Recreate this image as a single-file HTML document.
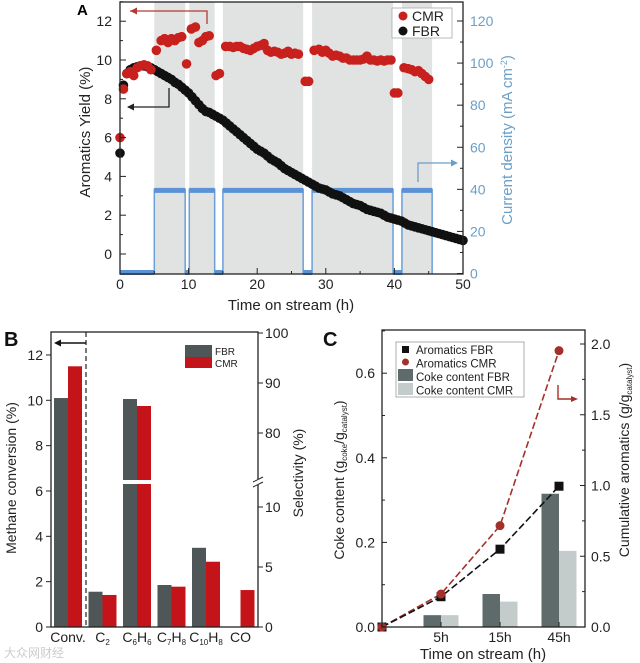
<!DOCTYPE html>
<html><head><meta charset="utf-8">
<style>
html,body{margin:0;padding:0;background:#fff;}
svg{display:block;font-family:"Liberation Sans",Arial,sans-serif;}
</style></head>
<body>
<svg id="fig" width="640" height="663" viewBox="0 0 640 663" xmlns="http://www.w3.org/2000/svg">
  <g id="gA"></g>
  <g id="gB"></g>
  <g id="gC"></g>
  <text x="77" y="15" font-size="15" font-weight="bold">A</text>
</svg>
<script>
// ===== Panel A data =====
const aOnPeriods = [[5.0,9.5],[10.1,13.8],[15.0,26.7],[28.0,39.8],[41.1,45.5]];
const aCurrentOn = 40;
const aFbrTime = [0,0.5,1,1.5,2,2.5,3,3.5,4,4.5,5,5.5,6,6.5,7,7.5,8,8.5,9,9.5,10,10.5,11,11.5,12,12.5,13,13.5,14,14.5,15,15.5,16,16.5,17,17.5,18,18.5,19,19.5,20,20.5,21,21.5,22,22.5,23,23.5,24,24.5,25,25.5,26,26.5,27,27.5,28,28.5,29,29.5,30,30.5,31,31.5,32,32.5,33,33.5,34,34.5,35,35.5,36,36.5,37,37.5,38,38.5,39,39.5,40,40.5,41,41.5,42,42.5,43,43.5,44,44.5,45,45.5,46,46.5,47,47.5,48,48.5,49,49.5,50];
const aFbrYield = [5.2,8.7,9.3,9.5,9.6,9.65,9.7,9.7,9.65,9.6,9.5,9.4,9.3,9.2,9.1,9.0,8.85,8.75,8.6,8.45,8.3,8.1,7.9,7.7,7.5,7.35,7.3,7.2,7.1,7.0,6.9,6.75,6.6,6.45,6.3,6.15,6.0,5.85,5.7,5.55,5.4,5.3,5.2,5.05,4.9,4.8,4.7,4.55,4.4,4.3,4.2,4.1,4.0,3.9,3.8,3.7,3.6,3.5,3.4,3.35,3.3,3.2,3.1,3.05,3.0,2.9,2.8,2.7,2.6,2.55,2.5,2.4,2.3,2.25,2.2,2.15,2.1,2.0,1.9,1.85,1.8,1.75,1.7,1.6,1.5,1.45,1.4,1.35,1.3,1.25,1.2,1.15,1.1,1.05,1.0,0.95,0.9,0.85,0.8,0.75,0.7];
const aCmrTime = [0,0.5,1,1.5,2,2.5,3,3.5,4,4.5,5.3,6,6.5,7,7.5,8,8.5,9,9.7,10.4,11,11.5,12,12.5,13,14,14.5,15.4,16,16.5,17,17.5,18,18.5,19,19.5,20,20.5,21,21.5,22,22.5,23,23.5,24,24.5,25,25.5,26,27,27.5,28.3,29,29.5,30,30.5,31,31.5,32,32.5,33,33.5,34,34.5,35,35.5,36,36.5,37,37.5,38,38.5,39,39.5,40,40.5,41.4,42,42.5,43,43.5,44,44.5,45];
const aCmrYield = [6.0,8.5,9.3,9.4,9.2,9.6,9.7,9.75,9.7,9.5,10.5,11.0,11.1,10.9,11.1,11.0,11.15,11.2,9.8,11.6,11.7,10.9,11.0,11.2,11.25,9.2,9.3,10.7,10.7,10.65,10.7,10.7,10.6,10.55,10.5,10.6,10.7,10.75,10.85,10.5,10.4,10.45,10.4,10.3,10.35,10.45,10.3,10.35,10.3,8.9,8.9,10.5,10.55,10.4,10.5,10.35,10.2,10.25,10.2,10.1,10.1,10.0,10.0,10.0,10.0,10.05,10.2,10.0,10.0,9.95,10.0,9.95,10.0,10.0,8.3,8.3,9.6,9.55,9.5,9.4,9.45,9.3,9.15,9.0];
const aYTicks = [0,2,4,6,8,10,12];
const aY2Ticks = [0,20,40,60,80,100,120];
const aXTicks = [0,10,20,30,40,50];

// ===== Panel B data =====
const bCats = ["Conv.","C2","C6H6","C7H8","C10H8","CO"];
const bFbr = [10.1, 2.94, 86.8, 3.5, 6.6, 0];
const bCmr = [11.5, 2.67, 85.4, 3.36, 5.44, 3.08];
const bYTicks = [0,2,4,6,8,10,12];
const bSelLowTicks = [0,5,10];
const bSelHighTicks = [80,90,100];

// ===== Panel C data =====
const cCats = ["","5h","15h","45h"];
const cCokeFbr = [null,0.028,0.078,0.315];
const cCokeCmr = [null,0.028,0.06,0.18];
const cAromFbr = [0,0.214,0.55,0.995];
const cAromCmr = [0,0.233,0.716,1.953];
const cYTicks = [0.0,0.2,0.4,0.6];
const cY2Ticks = [0.0,0.5,1.0,1.5,2.0];

const NS = "http://www.w3.org/2000/svg";
function mk(parent, tag, attrs, txt){
  const e = document.createElementNS(NS, tag);
  for (const k in attrs) e.setAttribute(k, attrs[k]);
  if (txt !== undefined) e.textContent = txt;
  parent.appendChild(e);
  return e;
}

// ================= PANEL A =================
(function(){
  const g = document.getElementById('gA');
  const L=120,R=463,T=2,B=274;
  const xA = t => L + t*(R-L)/50;
  const yA = v => 254 - v*19.4;
  const yC = c => 273.5 - c*(273.5-21)/120;
  for (const p of aOnPeriods){
    const r = mk(g,'rect',{x:xA(p[0]),y:T,width:xA(p[1])-xA(p[0]),height:B-T,fill:'#e1e3e3'});
    
    
  }
  let d = `M${xA(0)},${yC(0)}`;
  for (const p of aOnPeriods){
    d += ` L${xA(p[0])},${yC(0)} L${xA(p[0])},${yC(aCurrentOn)} L${xA(p[1])},${yC(aCurrentOn)} L${xA(p[1])},${yC(0)}`;
  }
  const thin = mk(g,'path',{d:d,fill:'none',stroke:'#6a9fd8','stroke-width':1.5});
  
  
  let prev = 0;
  for (const p of aOnPeriods){
    const off = mk(g,'line',{x1:xA(prev),x2:xA(p[0]),y1:yC(0)-1,y2:yC(0)-1,stroke:'#5b92d6','stroke-width':5});
    
    
    const on = mk(g,'line',{x1:xA(p[0]),x2:xA(p[1]),y1:yC(aCurrentOn)+1,y2:yC(aCurrentOn)+1,stroke:'#5b92d6','stroke-width':5});
    
    
    prev = p[1];
  }
  for (let i=0;i<aFbrTime.length;i++){
    const c = mk(g,'circle',{cx:xA(aFbrTime[i]),cy:yA(aFbrYield[i]),r:4.8,fill:'#111'});
    
    
  }
  for (let i=0;i<aCmrTime.length;i++){
    const c = mk(g,'circle',{cx:xA(aCmrTime[i]),cy:yA(aCmrYield[i]),r:4.8,fill:'#c8201c'});
    
    
  }
  const fr = mk(g,'rect',{x:L,y:T,width:R-L,height:B-T,fill:'none',stroke:'#222','stroke-width':1.3});
  
  
  for (const v of aYTicks){
    const tk = mk(g,'line',{x1:L,x2:L+6,y1:yA(v),y2:yA(v),stroke:'#222'});
    
    
    const mt = mk(g,'line',{x1:L,x2:L+3,y1:yA(v+1),y2:yA(v+1),stroke:'#222'});
    
    
    const lb = mk(g,'text',{x:L-8,y:yA(v)+5,'font-size':14,'text-anchor':'end',fill:'#222'},String(v));
    
    
  }
  for (const v of aY2Ticks){
    const tk = mk(g,'line',{x1:R,x2:R-6,y1:yC(v),y2:yC(v),stroke:'#222'});
    
    
    if (v<120){
      const mt = mk(g,'line',{x1:R,x2:R-3,y1:yC(v+10),y2:yC(v+10),stroke:'#222'});
      
      
    }
    const lb = mk(g,'text',{x:R+7,y:yC(v)+5,'font-size':14,fill:'#6a9fc8'},String(v));
    
    
  }
  for (const v of aXTicks){
    const tk = mk(g,'line',{x1:xA(v),x2:xA(v),y1:B,y2:B-6,stroke:'#222'});
    
    
    if (v<50){
      const mt = mk(g,'line',{x1:xA(v+5),x2:xA(v+5),y1:B,y2:B-3,stroke:'#222'});
      
      
    }
    const lb = mk(g,'text',{x:xA(v),y:B+15,'font-size':14,'text-anchor':'middle',fill:'#222'},String(v));
    
    
  }
})();
</script>
<svg style="position:absolute;left:0;top:0" width="640" height="663" xmlns="http://www.w3.org/2000/svg" font-family="Liberation Sans, Arial, sans-serif">
  <text x="291" y="310" font-size="15" text-anchor="middle" fill="#222">Time on stream (h)</text>
  <text transform="translate(90,132) rotate(-90)" font-size="15" text-anchor="middle" fill="#222">Aromatics Yield (%)</text>
  <text transform="translate(512,140) rotate(-90)" font-size="15" text-anchor="middle" fill="#6a9fc8">Current density (mA cm<tspan dy="-5" font-size="9">-2</tspan><tspan dy="5">)</tspan></text>
  <g>
    <rect x="392" y="8" width="60" height="30" fill="#fff" stroke="#aaa" stroke-width="0.8"/>
    <circle cx="403" cy="16" r="4.5" fill="#c8201c"/>
    <text x="412" y="21" font-size="14" fill="#222">CMR</text>
    <circle cx="403" cy="31" r="4.5" fill="#111"/>
    <text x="412" y="36" font-size="14" fill="#222">FBR</text>
  </g>
  <path d="M207,24 V11 H130" fill="none" stroke="#b23a36" stroke-width="1.3"/>
  <path d="M130,11 l7,-3.5 v7 z" fill="#b23a36"/>
  <path d="M169,88 V107 H128" fill="none" stroke="#222" stroke-width="1.3"/>
  <path d="M127,107 l7,-3.5 v7 z" fill="#222"/>
  <path d="M418,182 V163 H452" fill="none" stroke="#6a9fc8" stroke-width="1.3"/>
  <path d="M458,163 l-7,-3.5 v7 z" fill="#6a9fc8"/>

  <text x="4" y="346" font-size="20" font-weight="bold" fill="#111">B</text>
  <text x="323" y="346" font-size="20" font-weight="bold" fill="#111">C</text>
  <text x="4" y="657" font-size="12" fill="#ccc">大众网财经</text>
</svg>
<script>
// ================= PANEL B =================
(function(){
  const g = document.getElementById('gB');
  const L=51,R=258,T=332,B=627;
  const yL = v => 627 - v*22.67;
  const brk = 482;
  const ySel = v => v<=12.1 ? 627 - v*12 : 433 - (v-80)*5;
  const cx = i => 68 + i*34.5;
  const bw = 14;
  for (let i=0;i<bCats.length;i++){
    const f = i===0 ? yL : ySel;
    const vF = bFbr[i], vC = bCmr[i];
    const r1 = mk(g,'rect',{x:cx(i)-bw,y:f(vF),width:bw,height:B-f(vF),fill:'#4f5657'});
    
    
    const r2 = mk(g,'rect',{x:cx(i),y:f(vC),width:bw,height:B-f(vC),fill:'#c4141a'});
    
    
    if (i>0 && (vF>12.1 || vC>12.1)){
      const gap = mk(g,'rect',{x:cx(i)-bw-1,y:brk-2,width:2*bw+2,height:4,fill:'#fff'});
      
      
    }
  }
  const dl = mk(g,'line',{x1:86,x2:86,y1:T,y2:B,stroke:'#222','stroke-width':1.2,'stroke-dasharray':'5,3'});
  
  
  const ar = mk(g,'path',{d:'M86,343 H57',stroke:'#111','stroke-width':1.6,fill:'none'});
  
  
  const ah = mk(g,'path',{d:'M54,343 l7,-3.5 v7 z',fill:'#111'});
  
  
  const fr = mk(g,'rect',{x:L,y:T,width:R-L,height:B-T,fill:'none',stroke:'#222','stroke-width':1.3});
  
  
  const bk = mk(g,'rect',{x:R-4,y:brk-3,width:8,height:6,fill:'#fff'});
  
  
  const bk1 = mk(g,'line',{x1:R-5,x2:R+5,y1:brk,y2:brk-5,stroke:'#222'});
  
  
  const bk2 = mk(g,'line',{x1:R-5,x2:R+5,y1:brk+5,y2:brk,stroke:'#222'});
  
  
  for (const v of bYTicks){
    const tk = mk(g,'line',{x1:L,x2:L-5,y1:yL(v),y2:yL(v),stroke:'#222'});
    
    
    const lb = mk(g,'text',{x:L-8,y:yL(v)+5,'font-size':14,'text-anchor':'end',fill:'#222'},String(v));
    
    
  }
  for (const v of bSelLowTicks.concat(bSelHighTicks)){
    const tk = mk(g,'line',{x1:R,x2:R+5,y1:ySel(v),y2:ySel(v),stroke:'#222'});
    
    
    const lb = mk(g,'text',{x:R+7,y:ySel(v)+5,'font-size':14,fill:'#222'},String(v));
    
    
  }
  const labs = [['Conv.'],['C','2'],['C','6','H','6'],['C','7','H','8'],['C','10','H','8'],['CO']];
  for (let i=0;i<labs.length;i++){
    const t = mk(g,'text',{x:cx(i),y:642,'font-size':14,'text-anchor':'middle',fill:'#222'});
    
    
    const p = labs[i];
    for (let k=0;k<p.length;k++){
      mk(t,'tspan',k%2 ? {'font-size':8,dy:3} : (k>0?{dy:-3}:{}),p[k]);
    }
  }
  const ttl = mk(g,'text',{transform:'translate(16,478) rotate(-90)','font-size':14,'text-anchor':'middle',fill:'#222'},'Methane conversion (%)');
  
  
  const ttl2 = mk(g,'text',{transform:'translate(303,473) rotate(-90)','font-size':14,'text-anchor':'middle',fill:'#222'},'Selectivity (%)');
  
  
  const l1 = mk(g,'rect',{x:185,y:345,width:27,height:12,fill:'#4f5657'});
  
  
  const l2 = mk(g,'rect',{x:185,y:357,width:27,height:11,fill:'#c4141a'});
  
  
  const t1 = mk(g,'text',{x:215,y:355,'font-size':10,fill:'#222'},'FBR');
  
  
  const t2 = mk(g,'text',{x:215,y:367,'font-size':10,fill:'#222'},'CMR');
  
  
})();

// ================= PANEL C =================
(function(){
  const g = document.getElementById('gC');
  const L=382,R=585,T=330,B=627;
  const x = i => 382 + i*59;
  const yL = v => 627 - v*423;
  const yR = v => 627 - v*141.5;
  const bw = 17.5;
  for (let i=0;i<cCats.length;i++){
    if (cCokeFbr[i]===null) continue;
    const r1 = mk(g,'rect',{x:x(i)-bw,y:yL(cCokeFbr[i]),width:bw,height:B-yL(cCokeFbr[i]),fill:'#5f6b6a'});
    
    
    const r2 = mk(g,'rect',{x:x(i),y:yL(cCokeCmr[i]),width:bw,height:B-yL(cCokeCmr[i]),fill:'#c3cccb'});
    
    
  }
  const pF = cAromFbr.map((v,i)=>x(i)+','+yR(v)).join(' ');
  const pC = cAromCmr.map((v,i)=>x(i)+','+yR(v)).join(' ');
  const lC = mk(g,'polyline',{points:pC,fill:'none',stroke:'#a4302c','stroke-width':1.6,'stroke-dasharray':'7,3'});
  
  
  const lF = mk(g,'polyline',{points:pF,fill:'none',stroke:'#111','stroke-width':1.6,'stroke-dasharray':'7,3'});
  
  
  for (let i=0;i<cAromFbr.length;i++){
    const s = mk(g,'rect',{x:x(i)-4.5,y:yR(cAromFbr[i])-4.5,width:9,height:9,fill:'#111'});
    
    
    const c = mk(g,'circle',{cx:x(i),cy:yR(cAromCmr[i]),r:4.5,fill:'#a4302c'});
    
    
  }
  const fr = mk(g,'rect',{x:L,y:T,width:R-L,height:B-T,fill:'none',stroke:'#222','stroke-width':1.3});
  
  
  for (const v of cYTicks){
    const tk = mk(g,'line',{x1:L,x2:L+5,y1:yL(v),y2:yL(v),stroke:'#222'});
    
    
    const mt = mk(g,'line',{x1:L,x2:L+3,y1:yL(v+0.1),y2:yL(v+0.1),stroke:'#222'});
    
    
    const lb = mk(g,'text',{x:L-7,y:yL(v)+5,'font-size':14,'text-anchor':'end',fill:'#222'},v.toFixed(1));
    
    
  }
  for (const v of cY2Ticks){
    const tk = mk(g,'line',{x1:R,x2:R-5,y1:yR(v),y2:yR(v),stroke:'#222'});
    
    
    if (v<2){
      const mt = mk(g,'line',{x1:R,x2:R-3,y1:yR(v+0.25),y2:yR(v+0.25),stroke:'#222'});
      
      
    }
    const lb = mk(g,'text',{x:R+6,y:yR(v)+5,'font-size':14,fill:'#222'},v.toFixed(1));
    
    
  }
  for (let i=1;i<cCats.length;i++){
    const tk = mk(g,'line',{x1:x(i),x2:x(i),y1:B,y2:B-5,stroke:'#222'});
    
    
    const lb = mk(g,'text',{x:x(i),y:642,'font-size':14,'text-anchor':'middle',fill:'#222'},cCats[i]);
    
    
  }
  const xt = mk(g,'text',{x:483,y:659,'font-size':15,'text-anchor':'middle',fill:'#222'},'Time on stream (h)');
  
  
  const yt = mk(g,'text',{transform:'translate(344,480) rotate(-90)','font-size':14,'text-anchor':'middle',fill:'#222'});
  
  
  mk(yt,'tspan',{},'Coke content (g');
  mk(yt,'tspan',{'font-size':8,dy:3},'coke');
  mk(yt,'tspan',{dy:-3},'/g');
  mk(yt,'tspan',{'font-size':8,dy:3},'catalyst');
  mk(yt,'tspan',{dy:-3},')');
  const yt2 = mk(g,'text',{transform:'translate(629,460) rotate(-90)','font-size':14,'text-anchor':'middle',fill:'#222'});
  
  
  mk(yt2,'tspan',{},'Cumulative aromatics (g/g');
  mk(yt2,'tspan',{'font-size':8,dy:3},'catalyst');
  mk(yt2,'tspan',{dy:-3},')');
  const lg = mk(g,'rect',{x:396,y:342,width:128,height:55,fill:'#fff',stroke:'#999','stroke-width':0.8});
  
  
  const m1 = mk(g,'rect',{x:402,y:346,width:7,height:7,fill:'#111'});
  
  
  const m2 = mk(g,'circle',{cx:405.5,cy:362,r:3.5,fill:'#a4302c'});
  
  
  const m3 = mk(g,'rect',{x:398,y:369,width:15,height:12,fill:'#5f6b6a'});
  
  
  const m4 = mk(g,'rect',{x:398,y:383,width:15,height:12,fill:'#c3cccb'});
  
  
  const names = ['Aromatics FBR','Aromatics CMR','Coke content FBR','Coke content CMR'];
  for (let i=0;i<4;i++){
    const t = mk(g,'text',{x:416,y:354+i*13.5,'font-size':11.5,fill:'#222'},names[i]);
    
    
  }
  const ra = mk(g,'path',{d:'M558,385 V399 H572',fill:'none',stroke:'#a4302c','stroke-width':1.4});
  
  
  const rh = mk(g,'path',{d:'M578,399 l-7,-3 v6 z',fill:'#a4302c'});
  
  
})();
</script>
</body></html>
